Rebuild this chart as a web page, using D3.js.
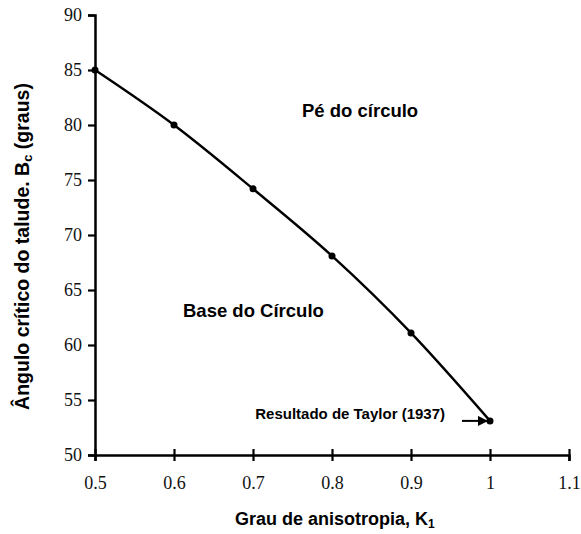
<!DOCTYPE html>
<html><head><meta charset="utf-8">
<script src="https://cdn.jsdelivr.net/npm/d3@7"></script>
<style>body{margin:0;background:#fff}</style>
</head><body>
<script>
const kValues = [0.5, 0.6, 0.7, 0.8, 0.9, 1.0];
const angleValues = [85, 80, 74.2, 68.1, 61.1, 53.1];
const xTicks = [0.5, 0.6, 0.7, 0.8, 0.9, 1.0, 1.1];
const yTicks = [50, 55, 60, 65, 70, 75, 80, 85, 90];
const taylorPoint = [1.0, 53.1];

const W = 581, H = 534;
const svg = d3.select("body").append("svg").attr("width", W).attr("height", H);
const x = d3.scaleLinear().domain([0.5, 1.1]).range([95, 569]);
const y = d3.scaleLinear().domain([50, 90]).range([455, 15]);

const serif = "'Liberation Serif','Times New Roman',serif";
const sans = "'Liberation Sans',Arial,sans-serif";

// y axis
const gy = svg.append("g").attr("transform", `translate(${x(0.5)},0)`)
  .call(d3.axisLeft(y).tickValues(yTicks).tickFormat(d3.format("d")).tickSize(7).tickPadding(6));
gy.select(".domain").attr("stroke", "#000").attr("stroke-width", 2.5);
gy.selectAll(".tick line").attr("stroke", "#000").attr("stroke-width", 2.2);
gy.selectAll(".tick text").attr("font-family", serif).attr("font-size", 18).attr("fill", "#111");

// x axis
const gx = svg.append("g").attr("transform", `translate(0,${y(50)})`)
  .call(d3.axisBottom(x).tickValues(xTicks).tickFormat(d => d === 1 ? "1" : d3.format(".1f")(d)).tickSize(6).tickPadding(15));
gx.select(".domain").attr("stroke", "#000").attr("stroke-width", 2.5);
gx.selectAll(".tick line").attr("stroke", "#000").attr("stroke-width", 2.2).attr("y1", -6);
gx.selectAll(".tick text").attr("font-family", serif).attr("font-size", 18).attr("fill", "#111");

// curve
const data = kValues.map((k, i) => [k, angleValues[i]]);
svg.append("path").datum(data)
  .attr("d", d3.line().x(d => x(d[0])).y(d => y(d[1])).curve(d3.curveMonotoneX))
  .attr("fill", "none").attr("stroke", "#000").attr("stroke-width", 2.4);
svg.selectAll("circle.pt").data(data).join("circle").attr("class", "pt")
  .attr("cx", d => x(d[0])).attr("cy", d => y(d[1])).attr("r", 3.5).attr("fill", "#000");

// region labels
svg.append("text").attr("x", 302).attr("y", 117).attr("font-family", sans)
  .attr("font-weight", "bold").attr("font-size", 18.5).text("Pé do círculo");
svg.append("text").attr("x", 183).attr("y", 317).attr("font-family", sans)
  .attr("font-weight", "bold").attr("font-size", 18.5).text("Base do Círculo");

// Taylor annotation
svg.append("text").attr("x", 445).attr("y", 419).attr("text-anchor", "end")
  .attr("font-family", sans).attr("font-weight", "bold").attr("font-size", 15).text("Resultado de Taylor (1937)");
svg.append("defs").append("marker").attr("id", "ah").attr("viewBox", "0 0 10 10")
  .attr("refX", 10).attr("refY", 5).attr("markerWidth", 5).attr("markerHeight", 5).attr("orient", "auto")
  .append("path").attr("d", "M0,0L10,5L0,10z").attr("fill", "#000");
svg.append("line").attr("x1", 462).attr("x2", x(taylorPoint[0]) - 2)
  .attr("y1", y(taylorPoint[1])).attr("y2", y(taylorPoint[1]))
  .attr("stroke", "#000").attr("stroke-width", 2).attr("marker-end", "url(#ah)");

// axis titles
const xt = svg.append("text").attr("x", 235).attr("y", 525).attr("font-family", sans)
  .attr("font-weight", "bold").attr("font-size", 18);
xt.append("tspan").text("Grau de anisotropia, K");
xt.append("tspan").attr("font-size", 12).attr("dy", 3).text("1");

const yt = svg.append("text").attr("transform", `translate(29,246.5) rotate(-90)`).attr("text-anchor", "middle")
  .attr("font-family", sans).attr("font-weight", "bold").attr("font-size", 19.5);
yt.append("tspan").text("Ângulo crítico do talude. B");
yt.append("tspan").attr("font-size", 13).attr("dy", 3).text("c");
yt.append("tspan").attr("dy", -3).text(" (graus)");
</script>
</body></html>
